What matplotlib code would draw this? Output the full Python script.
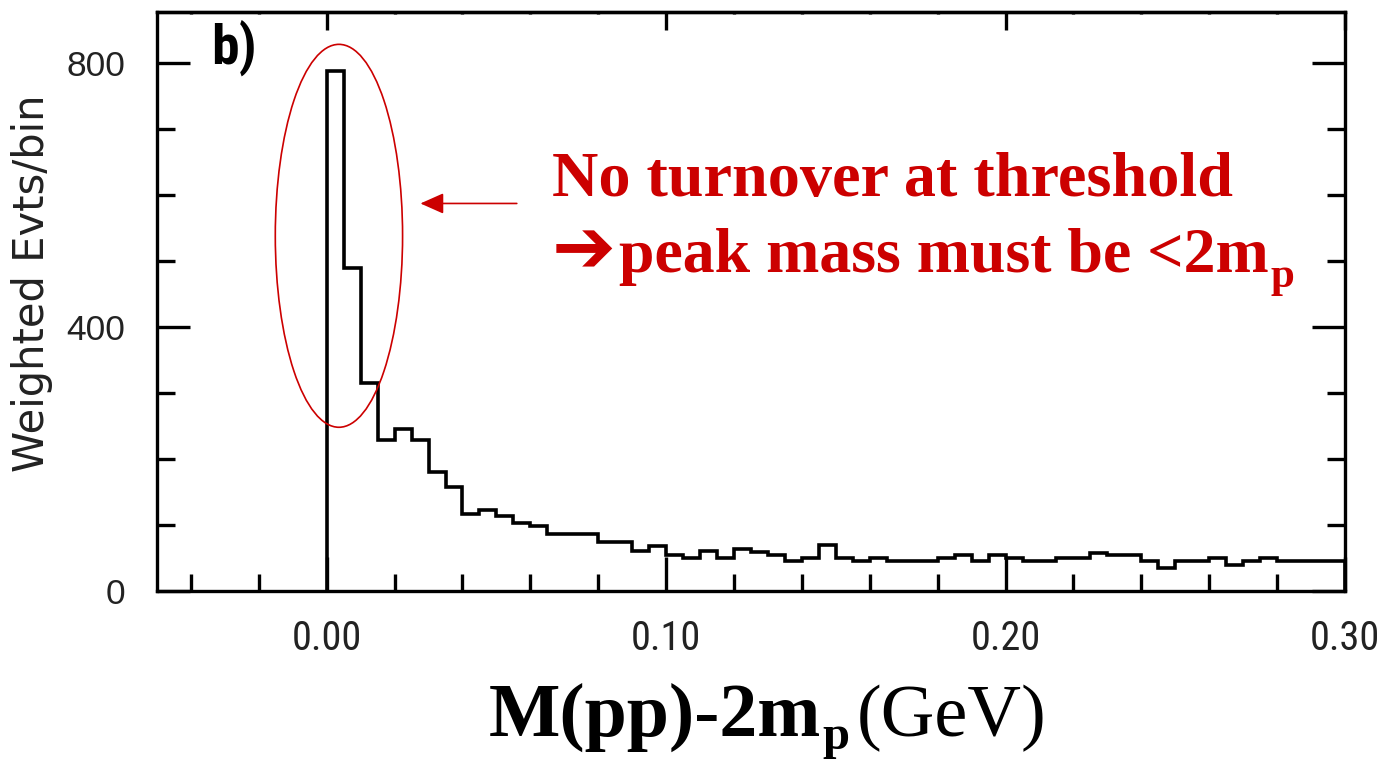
import numpy as np
import matplotlib
matplotlib.use("Agg")
import matplotlib.pyplot as plt
from matplotlib.patches import Ellipse
from matplotlib.ticker import MultipleLocator, FixedLocator, FixedFormatter
from matplotlib import font_manager
from matplotlib.font_manager import FontProperties

# ---------------- data ----------------
bin_start = 0.0
bin_width = 0.005
counts = [787, 489, 315, 228, 245, 228, 180, 157, 117, 122,
          113, 103, 98, 87, 87, 87, 74, 74, 60, 68,
          55, 50, 60, 50, 63, 59, 54, 46, 50, 69,
          50, 46, 50, 46, 46, 46, 50, 54, 46, 54,
          50, 46, 46, 50, 50, 58, 54, 54, 46, 35,
          46, 46, 50, 40, 46, 50, 46, 46, 46, 46]
x_major = [0.0, 0.1, 0.2, 0.3]
x_major_labels = ["0.00", "0.10", "0.20", "0.30"]
y_major = [0, 400, 800]
y_major_labels = ["0", "400", "800"]
x_limits = (-0.05, 0.30)
y_limits = (0, 877)

# annotation geometry (data units)
ell_center = (0.0036, 538)
ell_width = 0.0375
ell_height = 580
arrow_tip = (0.0276, 587)
arrow_tail = (0.056, 587)

RED = "#cc0000"


def find_condensed(bold=False):
    prefs = ["Liberation Sans Narrow", "DejaVu Sans Condensed",
             "Roboto Condensed", "Open Sans Condensed"]
    cands = []
    for f in font_manager.fontManager.ttflist:
        isbold = (f.weight in ("bold", 700) or (isinstance(f.weight, int) and f.weight >= 600))
        if isbold != bold or f.style != "normal":
            continue
        if f.name in prefs:
            cands.append((prefs.index(f.name), f.fname))
        elif f.name in ("DejaVu Sans", "Roboto", "Open Sans") and \
                str(f.stretch) in ("condensed", "semi-condensed", "500", "375"):
            cands.append((10, f.fname))
    if cands:
        cands.sort()
        return cands[0][1]
    return None


cond_reg = find_condensed(False)
cond_bold = find_condensed(True)

edges = bin_start + bin_width * np.arange(len(counts) + 1)

fig = plt.figure(figsize=(13.89, 7.60), dpi=100)
ax = fig.add_axes([157 / 1389, 1 - 591 / 760, (1345 - 157) / 1389, (591 - 12) / 760])

ax.stairs(counts, edges, baseline=0, fill=False, color="black", lw=2.6)
ax.set_xlim(*x_limits)
ax.set_ylim(*y_limits)

for s in ax.spines.values():
    s.set_linewidth(2.4)

ax.xaxis.set_major_locator(FixedLocator(x_major))
ax.xaxis.set_major_formatter(FixedFormatter(x_major_labels))
ax.xaxis.set_minor_locator(MultipleLocator(0.02))
ax.yaxis.set_major_locator(FixedLocator(y_major))
ax.yaxis.set_major_formatter(FixedFormatter(y_major_labels))
ax.yaxis.set_minor_locator(MultipleLocator(100))

ax.tick_params(axis="x", which="both", direction="in", bottom=True, top=False,
               width=2.4, color="black")
ax.tick_params(axis="x", which="major", length=24.5, pad=20)
ax.tick_params(axis="x", which="minor", length=12.2)
ax.tick_params(axis="y", which="both", direction="in", left=True, right=True,
               width=2.4, color="black")
ax.tick_params(axis="y", which="major", length=23.8, pad=23)
ax.tick_params(axis="y", which="minor", length=12.8)

if cond_reg:
    xprop = FontProperties(fname=cond_reg, size=29)
else:
    xprop = FontProperties(family="Liberation Sans", size=26)
for lab in ax.get_xticklabels():
    lab.set_fontproperties(xprop)
    lab.set_color("#222222")
for lab in ax.get_yticklabels():
    lab.set_fontfamily("Liberation Sans")
    lab.set_fontsize(25.5)
    lab.set_color("#222222")

# top ticks (shorter)
sec = ax.secondary_xaxis("top")
sec.xaxis.set_major_locator(FixedLocator(x_major))
sec.xaxis.set_minor_locator(MultipleLocator(0.02))
sec.tick_params(which="both", direction="in", width=2.4, labeltop=False)
sec.tick_params(which="major", length=13)
sec.tick_params(which="minor", length=1.6)
sec.spines["top"].set_linewidth(2.4)

# y label
fig.text(32 / 1389, 1 - 283 / 760, "Weighted Evts/bin", rotation=90,
         family="DejaVu Sans", fontsize=30, color="#222222",
         ha="center", va="center")

# panel label
if cond_bold:
    bprop = FontProperties(fname=cond_bold, size=40)
else:
    bprop = FontProperties(family="Liberation Sans", weight="bold", size=35)
fig.text(211 / 1389, 1 - 21 / 760, "b)", fontproperties=bprop,
         color="black", ha="left", va="top")

# ellipse and arrow
ax.add_patch(Ellipse(ell_center, ell_width, ell_height, fill=False,
                     edgecolor=RED, lw=1.2, clip_on=False))
ax.annotate("", xy=arrow_tip, xytext=arrow_tail,
            arrowprops=dict(arrowstyle="-|>,head_length=0.72,head_width=0.32",
                            color=RED, lw=1.2, mutation_scale=20,
                            shrinkA=0, shrinkB=0))

# red annotation text
fig.text(552 / 1389, 1 - 196 / 760, "No turnover at threshold",
         family="Liberation Serif", fontweight="bold", fontsize=46.2,
         color=RED, ha="left", va="baseline")
fig.text(552 / 1389, 1 - 272 / 760, "\u2794",
         family="DejaVu Sans", fontweight="bold", fontsize=55,
         color=RED, ha="left", va="baseline")
t2 = fig.text(619 / 1389, 1 - 272 / 760, "peak mass must be <2m",
              family="Liberation Serif", fontweight="bold",
              fontsize=46, color=RED, ha="left", va="baseline")
ax.annotate("p", xy=(1, 0), xycoords=t2, xytext=(1, -1),
            textcoords="offset points", family="Liberation Serif",
            fontweight="bold", fontsize=31, color=RED,
            ha="left", va="baseline", annotation_clip=False)

# x label: M(pp)-2m_p (GeV)
t1 = fig.text(489 / 1389, 1 - 736 / 760, "M(pp)-2m",
              family="Liberation Serif", fontweight="bold", fontsize=54.5,
              color="black", ha="left", va="baseline")
sub = ax.annotate("p", xy=(1, 0), xycoords=t1, xytext=(1, 2),
                  textcoords="offset points", family="Liberation Serif",
                  fontweight="bold", fontsize=35, color="black",
                  ha="left", va="baseline", annotation_clip=False)
ax.annotate("(GeV)", xy=(1, 0), xycoords=(sub, t1), xytext=(5, 0),
            textcoords="offset points", family="Liberation Serif",
            fontsize=53.5, color="black", ha="left", va="bottom",
            annotation_clip=False)

fig.savefig("out.png", dpi=100)
